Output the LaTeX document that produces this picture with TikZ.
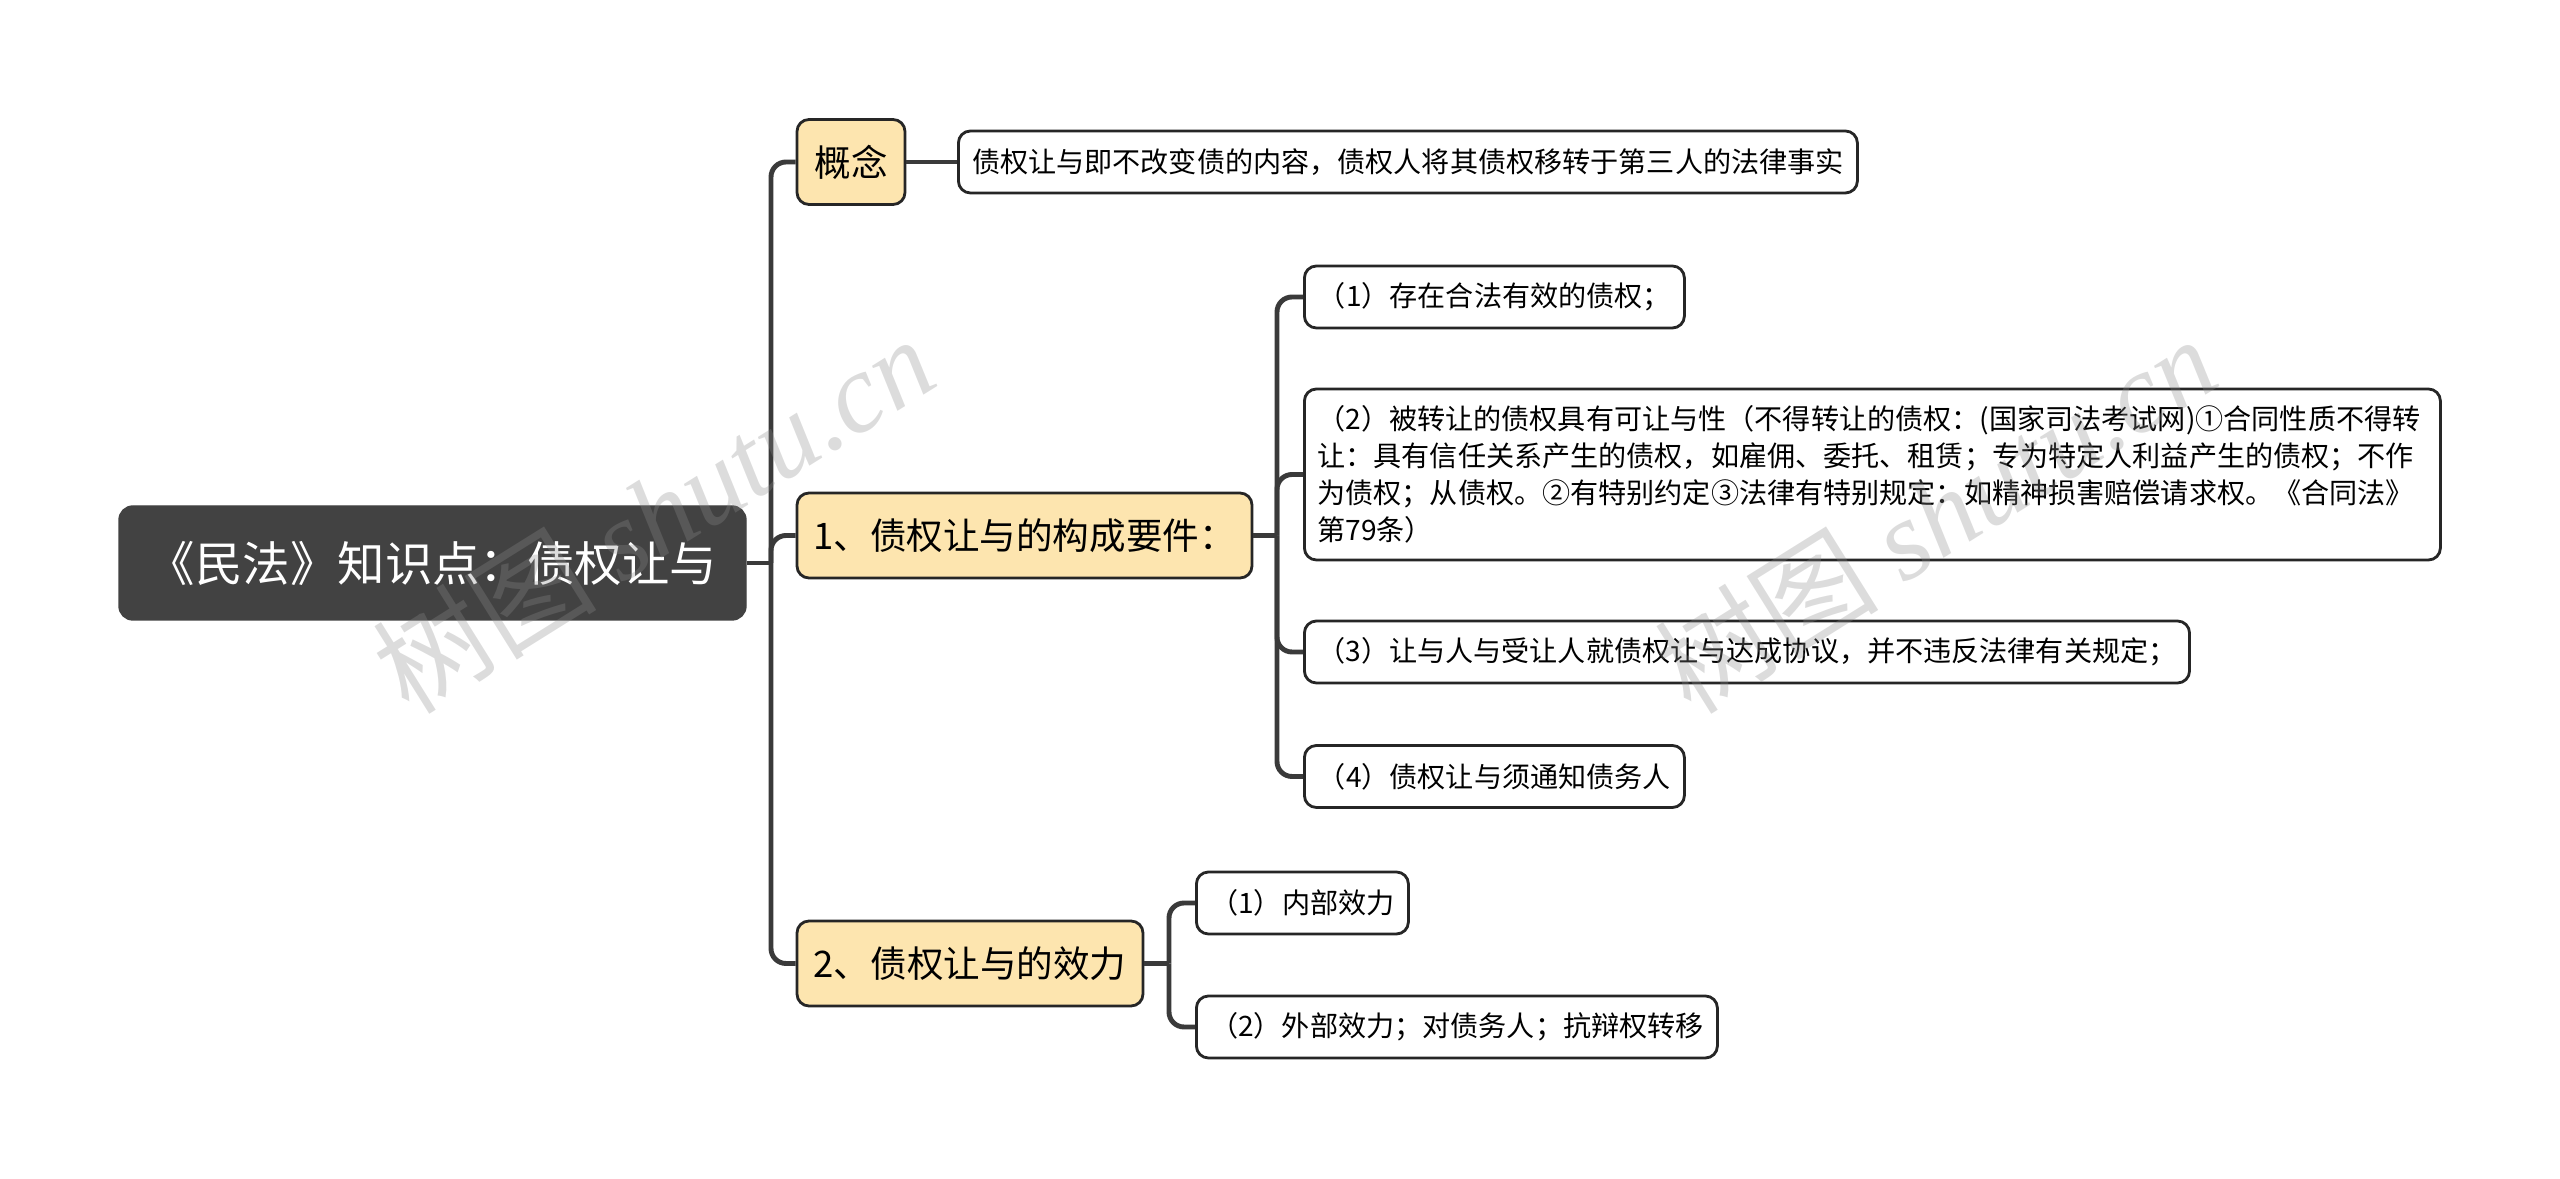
\documentclass[tikz,border=0pt]{standalone}
\usepackage{fontspec}
\setmainfont{Noto Sans CJK SC}
\newfontfamily\wmfont{Liberation Serif}
\usepackage{xcolor}
\definecolor{rootgray}{HTML}{424242}
\definecolor{topicyellow}{HTML}{FDE5AF}
\definecolor{linegray}{HTML}{3A3A3A}

\begin{document}
\begin{tikzpicture}[x=1cm,y=-1cm,
  rootbox/.style={draw=rootgray, fill=rootgray, rounded corners=0.14cm, text=white, font=\fontsize{13.5}{16}\selectfont, minimum width=6.27cm, minimum height=1.14cm, inner sep=0pt},
  topicbox/.style={draw=black!85, fill=topicyellow, line width=0.8pt, rounded corners=0.12cm, font=\fontsize{10.4}{12}\selectfont, minimum height=0.85cm, inner sep=0pt},
  leafbox/.style={draw=black!85, fill=white, line width=0.8pt, rounded corners=0.12cm, font=\fontsize{8}{10.5}\selectfont, minimum height=0.62cm, inner xsep=0.13cm, inner ysep=0pt, anchor=west},
  branch/.style={draw=linegray, line width=1.4pt, rounded corners=0.15cm},
  watermark/.style={text=black!45, text opacity=0.3, font=\fontsize{32}{36}\selectfont, rotate=32}]
\useasboundingbox (0,0) rectangle (25.6,11.79);

\node[rootbox] (root) at (4.325,5.63) {《民法》知识点：债权让与};

\node[topicbox, minimum width=1.08cm] (concept) at (8.51,1.62) {概念};
\node[topicbox, minimum width=4.55cm] (req) at (10.245,5.355) {1、债权让与的构成要件：};
\node[topicbox, minimum width=3.46cm] (eff) at (9.70,9.635) {2、债权让与的效力};

\node[leafbox, minimum width=8.99cm] (def) at (9.57,1.62) {债权让与即不改变债的内容，债权人将其债权移转于第三人的法律事实};

\node[leafbox, minimum width=3.80cm] (req1) at (13.03,2.97) {（1）存在合法有效的债权；};
\node[leafbox, minimum height=1.71cm, text width=11.10cm, align=left] (req2) at (13.03,4.745) {（2）被转让的债权具有可让与性（不得转让的债权：(国家司法考试网)①合同性质不得转\\让：具有信任关系产生的债权，如雇佣、委托、租赁；专为特定人利益产生的债权；不作\\为债权；从债权。②有特别约定③法律有特别规定：如精神损害赔偿请求权。《合同法》\\第79条）};
\node[leafbox, minimum width=8.85cm] (req3) at (13.03,6.52) {（3）让与人与受让人就债权让与达成协议，并不违反法律有关规定；};
\node[leafbox, minimum width=3.80cm] (req4) at (13.03,7.765) {（4）债权让与须通知债务人};

\node[leafbox, minimum width=2.12cm] (eff1) at (11.95,9.03) {（1）内部效力};
\node[leafbox, minimum width=5.21cm] (eff2) at (11.95,10.27) {（2）外部效力；对债务人；抗辩权转移};

\coordinate (hub) at (7.71,5.63);
\coordinate (hubreq) at (12.77,5.355);
\coordinate (hubeff) at (11.69,9.635);

\draw[branch] (root.east) -- (hub);
\foreach \t in {concept,req,eff}
  \draw[branch] (hub) |- (\t.west);
\draw[branch] (concept.east) -- (def.west);
\draw[branch] (req.east) -- (hubreq);
\foreach \l in {req1,req2,req3,req4}
  \draw[branch] (hubreq) |- (\l.west);
\draw[branch] (eff.east) -- (hubeff);
\foreach \l in {eff1,eff2}
  \draw[branch] (hubeff) |- (\l.west);

\node[watermark] (wmleft) at (6.53,5.14) {树图 {\wmfont\itshape shutu.cn}};
\node[watermark] (wmright) at (19.35,5.14) {树图 {\wmfont\itshape shutu.cn}};
\end{tikzpicture}
\end{document}
